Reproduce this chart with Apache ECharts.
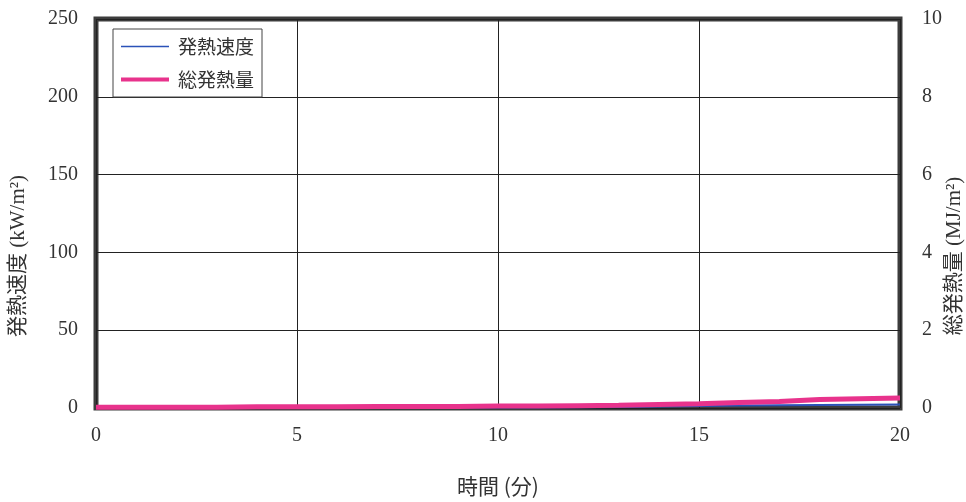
<!DOCTYPE html>
<html><head><meta charset="utf-8">
<script src="https://cdn.jsdelivr.net/npm/echarts@6/dist/echarts.min.js"></script>
<style>html,body{margin:0;padding:0;background:#fff}#c{width:966px;height:502px}</style>
</head><body><div id="c"></div>
<script>
var times = [0,1,2,3,4,5,6,7,8,9,10,11,12,13,14,15,16,17,18,19,20];
var hrr = [0.3,0.3,0.3,0.3,0.3,0.3,0.3,0.3,0.3,0.3,0.4,0.4,0.5,0.6,0.9,1.3,1.6,1.8,2.0,2.1,2.2];
var thr = [0.02,0.02,0.02,0.02,0.03,0.03,0.03,0.04,0.04,0.04,0.05,0.05,0.06,0.07,0.09,0.11,0.14,0.17,0.22,0.24,0.26];
var names = {hrr:'発熱速度', thr:'総発熱量', x:'時間 (分)', yl:'発熱速度 (kW/m²)', yr:'総発熱量 (MJ/m²)'};

var font = "'Liberation Serif','Noto Sans CJK JP',serif";
var txt = '#333';
var chart = echarts.init(document.getElementById('c'));
chart.setOption({
  animation:false,
  grid:{left:96,right:66,top:19,bottom:94,outerBoundsMode:'none',show:true,borderColor:'#3c3c3c',borderWidth:5,backgroundColor:'#fff'},
  legend:{orient:'vertical',left:113,top:29,itemWidth:48,itemHeight:14,itemGap:14,
    padding:[8,8,8,8],borderColor:'#444',borderWidth:1,backgroundColor:'#fff',
    textStyle:{fontFamily:"'Noto Sans CJK JP',sans-serif",fontSize:19,color:txt,padding:[0,0,0,4]},
    data:[
      {name:names.hrr,icon:'path://M0,0h1v0.01h-1zM0,4.3h50v1.4h-50zM0,10h1v0.01h-1z',itemStyle:{color:'#2b52b8'}},
      {name:names.thr,icon:'path://M0,0h1v0.01h-1zM0,3h50v4h-50zM0,10h1v0.01h-1z',itemStyle:{color:'#e8338c'}}
    ]},
  graphic:[
    {type:'text',x:18,y:256,rotation:Math.PI/2,style:{text:names.yl,fontFamily:font,fontSize:21,fill:txt,align:'center',verticalAlign:'middle'}},
    {type:'text',x:954,y:256,rotation:Math.PI/2,style:{text:names.yr,fontFamily:font,fontSize:21,fill:txt,align:'center',verticalAlign:'middle'}}
  ],
  xAxis:{type:'value',min:0,max:20,interval:5,
    name:names.x,nameLocation:'middle',nameGap:68,
    nameTextStyle:{fontFamily:"'Noto Sans CJK JP',sans-serif",fontSize:21,color:txt},
    axisLine:{show:false},axisTick:{show:false},
    axisLabel:{margin:18,fontFamily:font,fontSize:20,color:txt},
    splitLine:{show:true,lineStyle:{color:'#222',width:1}}},
  yAxis:[
    {type:'value',min:0,max:250,interval:50,position:'left',
     axisLine:{show:false},axisTick:{show:false},
     axisLabel:{margin:18,fontFamily:font,fontSize:20,color:txt},
     splitLine:{show:true,lineStyle:{color:'#222',width:1}}},
    {type:'value',min:0,max:10,interval:2,position:'right',
     axisLine:{show:false},axisTick:{show:false},
     axisLabel:{margin:22,fontFamily:font,fontSize:20,color:txt},
     splitLine:{show:false}}
  ],
  series:[
    {name:names.hrr,type:'line',yAxisIndex:0,symbol:'none',
     data:times.map(function(t,i){return [t,hrr[i]];}),
     lineStyle:{color:'#2b52b8',width:2},itemStyle:{color:'#2b52b8'}},
    {name:names.thr,type:'line',yAxisIndex:1,symbol:'none',
     data:times.map(function(t,i){return [t,thr[i]];}),
     lineStyle:{color:'#e8338c',width:5},itemStyle:{color:'#e8338c'}}
  ]
});
</script></body></html>
